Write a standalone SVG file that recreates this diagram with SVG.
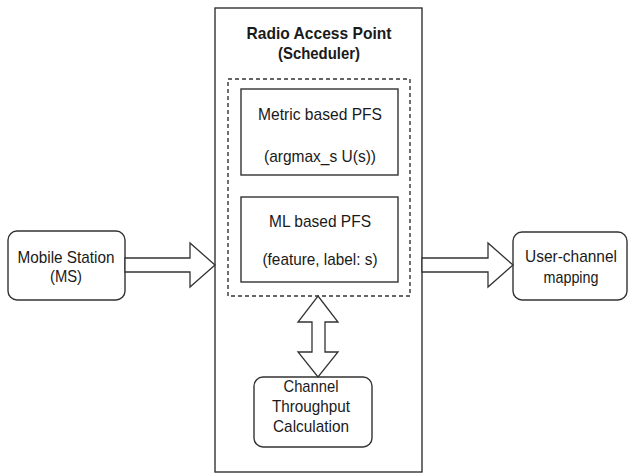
<svg xmlns="http://www.w3.org/2000/svg" width="629" height="474" viewBox="0 0 629 474">
<style>
.box{fill:#fff;stroke:#333;stroke-width:1.4}
.dash{fill:none;stroke:#333;stroke-width:1.4;stroke-dasharray:4 3}
.arr{fill:#fff;stroke:#333;stroke-width:1.3;stroke-linejoin:miter}
text{font-family:"Liberation Sans",Arial,sans-serif;font-size:17px;fill:#1a1a1a;text-anchor:middle}
.b{font-weight:bold}
</style>
<rect width="629" height="474" fill="#fff"/>
<g id="rap">
<rect class="box" x="215" y="8" width="207" height="464"/>
<text class="b" x="319" y="39" textLength="145" lengthAdjust="spacingAndGlyphs">Radio Access Point</text>
<text class="b" x="319" y="59" textLength="82" lengthAdjust="spacingAndGlyphs">(Scheduler)</text>
</g>
<g id="pfs-group">
<rect class="dash" x="228" y="79" width="182" height="217"/>
</g>
<g id="metric">
<rect class="box" x="241" y="89" width="157" height="86"/>
<text x="320" y="120" textLength="124" lengthAdjust="spacingAndGlyphs">Metric based PFS</text>
<text x="320" y="162" textLength="112" lengthAdjust="spacingAndGlyphs">(argmax_s U(s))</text>
</g>
<g id="ml">
<rect class="box" x="241" y="197" width="157" height="85"/>
<text x="320" y="227" textLength="102" lengthAdjust="spacingAndGlyphs">ML based PFS</text>
<text x="320" y="265" textLength="115" lengthAdjust="spacingAndGlyphs">(feature, label: s)</text>
</g>
<g id="ms">
<rect class="box" x="8" y="231" width="117" height="69" rx="9"/>
<text x="66" y="263" textLength="97" lengthAdjust="spacingAndGlyphs">Mobile Station</text>
<text x="66" y="282" textLength="32" lengthAdjust="spacingAndGlyphs">(MS)</text>
</g>
<g id="ucm">
<rect class="box" x="513" y="232" width="114" height="68" rx="9"/>
<text x="571" y="262" textLength="92" lengthAdjust="spacingAndGlyphs">User-channel</text>
<text x="571" y="283" textLength="55" lengthAdjust="spacingAndGlyphs">mapping</text>
</g>
<g id="ctc">
<rect class="box" x="254" y="377" width="118" height="70" rx="9"/>
<text x="311" y="392" textLength="55" lengthAdjust="spacingAndGlyphs">Channel</text>
<text x="311" y="412" textLength="78" lengthAdjust="spacingAndGlyphs">Throughput</text>
<text x="311" y="432" textLength="76" lengthAdjust="spacingAndGlyphs">Calculation</text>
</g>
<g id="connectors">
<path class="arr" d="M125 258 H190 V243 L215 265 L190 287 V272 H125 Z"/>
<path class="arr" d="M422 258 H488 V243 L513 265 L488 287 V272 H422 Z"/>
<path class="arr" d="M318 296 L338 322 H325 V352 H338 L318 377 L298 352 H312 V322 H298 Z"/>
</g>
</svg>
